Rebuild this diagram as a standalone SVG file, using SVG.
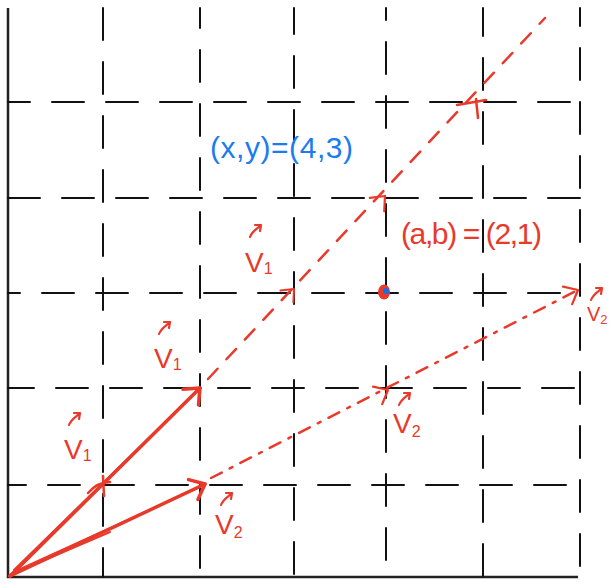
<svg xmlns="http://www.w3.org/2000/svg" width="609" height="584" viewBox="0 0 609 584">
<style>
.grid{stroke:#111;stroke-width:2;stroke-dasharray:32 22;fill:none;stroke-linecap:round}
.axis{stroke:#222;stroke-width:2.5;fill:none}
.red{stroke:#e8392a;fill:none;stroke-linecap:round;stroke-linejoin:round}
.vec{stroke-width:3.5}
.ext1{stroke-width:2.5;stroke-dasharray:14 13}
.ext2{stroke-width:2.5;stroke-dasharray:12 9 3 9}
.lbl{font-family:"Liberation Sans",sans-serif;fill:#e8392a;font-size:28px}
.sub{font-size:16px}
.blue{font-family:"Liberation Sans",sans-serif;fill:#1a7cf0;font-size:30px}
.redt{font-family:"Liberation Sans",sans-serif;fill:#e8392a;font-size:30px}
</style>
<defs>
<path id="ah" d="M-13,-11 L0,0 L-13,11"/>
<path id="vm" d="M1,12 C3,6 8,4 12,0 M6,0 L12,0 L11,6"/>
</defs>
<g id="axes">
<path class="axis" d="M8,8 L8,577 L578,577"/>
</g>
<g id="grid">
<path class="grid" d="M103,8 V577" stroke-dashoffset="0"/>
<path class="grid" d="M200,8 V577" stroke-dashoffset="12"/>
<path class="grid" d="M294,8 V577" stroke-dashoffset="6"/>
<path class="grid" d="M386,8 V577" stroke-dashoffset="20"/>
<path class="grid" d="M483,8 V577" stroke-dashoffset="4"/>
<path class="grid" d="M580,8 V577" stroke-dashoffset="14"/>
<path class="grid" d="M8,102 H580" stroke-dashoffset="10"/>
<path class="grid" d="M8,198 H580" stroke-dashoffset="0"/>
<path class="grid" d="M8,293 H580" stroke-dashoffset="20"/>
<path class="grid" d="M8,388 H580" stroke-dashoffset="6"/>
<path class="grid" d="M8,485 H580" stroke-dashoffset="14"/>
</g>
<g id="connectors">
<g id="v1">
<path class="red vec" d="M10,576 L200,388"/>
<path class="red" stroke-width="2" d="M14,570 L197,391 M12,574 L105,481"/>
<use href="#ah" class="red vec" transform="translate(200,388) rotate(-44.7)"/>
<path class="red" stroke-width="2.5" d="M88,493 C94,486 100,482 110,482 M103,476 L104,496"/>
</g>
<g id="v2">
<path class="red vec" d="M10,576 L205,484"/>
<path class="red" stroke-width="2" d="M16,571 L200,487 M12,574 L110,532"/>
<use href="#ah" class="red vec" transform="translate(205,484) rotate(-25.3)"/>
</g>
<g id="v1-ext">
<path class="red ext1" d="M208,379 L545,18"/>
<use href="#ah" class="red" stroke-width="2.5" transform="translate(294,289) rotate(-47) scale(0.8)"/>
<use href="#ah" class="red" stroke-width="2.5" transform="translate(385,196) rotate(-47) scale(0.9)"/>
<path class="red" stroke-width="2.5" d="M457,105 L486,100 M476,99 L478,118"/>
</g>
<g id="v2-ext">
<path class="red ext2" d="M211,478 L578,290"/>
<use href="#ah" class="red" stroke-width="2.5" transform="translate(388,390) rotate(-27.5) scale(0.9)"/>
<use href="#ah" class="red" stroke-width="2.5" transform="translate(578,290) rotate(-27.5) scale(0.9)"/>
</g>
</g>
<g id="point">
<ellipse cx="384" cy="292" rx="6" ry="7.5" fill="#e8392a"/>
<circle cx="386" cy="291" r="3" fill="#1a6fe8"/>
</g>
<g id="labels">
<text class="blue" x="210" y="158" textLength="143">(x,y)=(4,3)</text>
<text class="redt" x="401" y="244" textLength="141">(a,b) = (2,1)</text>
<g id="lbl-v1a"><use href="#vm" class="red" stroke-width="2.2" transform="translate(68,413)"/><text class="lbl" x="64" y="459">V<tspan class="sub" dy="2">1</tspan></text></g>
<g id="lbl-v1b"><use href="#vm" class="red" stroke-width="2.2" transform="translate(158,322)"/><text class="lbl" x="154" y="368">V<tspan class="sub" dy="2">1</tspan></text></g>
<g id="lbl-v1c"><use href="#vm" class="red" stroke-width="2.2" transform="translate(249,225)"/><text class="lbl" x="245" y="272">V<tspan class="sub" dy="2">1</tspan></text></g>
<g id="lbl-v2a"><use href="#vm" class="red" stroke-width="2.2" transform="translate(220,493)"/><text class="lbl" x="215" y="534">V<tspan class="sub" dy="4">2</tspan></text></g>
<g id="lbl-v2b"><use href="#vm" class="red" stroke-width="2.2" transform="translate(398,393)"/><text class="lbl" x="393" y="433">V<tspan class="sub" dy="4">2</tspan></text></g>
<g id="lbl-v2c"><use href="#vm" class="red" stroke-width="2.2" transform="translate(590,288)"/><text class="lbl" x="587" y="321" style="font-size:20px">V<tspan style="font-size:13px" dy="3">2</tspan></text></g>
</g>
</svg>
